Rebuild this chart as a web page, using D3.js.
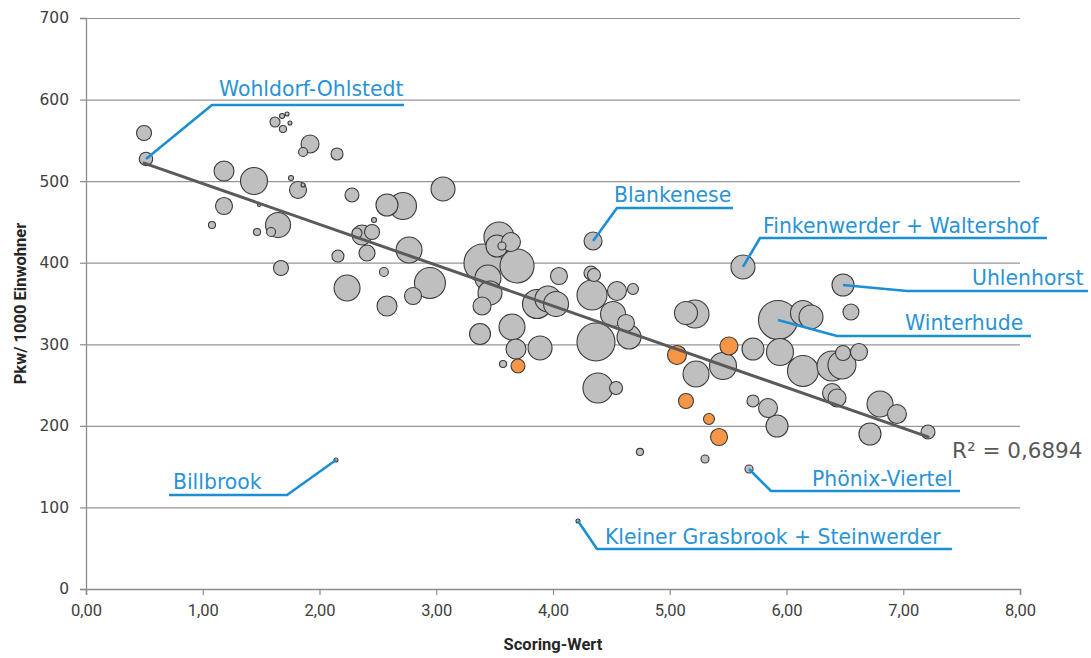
<!DOCTYPE html>
<html lang="de">
<head>
<meta charset="utf-8">
<title>Pkw-Dichte und Scoring-Wert der Hamburger Stadtteile</title>
<script src="https://cdn.jsdelivr.net/npm/d3@7/dist/d3.min.js"></script>
<style>
  html, body { margin: 0; padding: 0; background: #ffffff; }
  svg { display: block; }
</style>
</head>
<body>
<svg id="chart" width="1091" height="658"></svg>
<script>
// Scoring-Wert je Stadtteil (x)
const scoring = [
  0.497, 0.514, 1.619, 1.679, 1.722, 1.747, 1.687, 1.919, 1.859, 2.150,
  1.182, 1.439, 1.756, 1.816, 1.859, 1.182, 1.482, 2.278, 2.578, 2.715,
  3.058, 1.079, 1.465, 1.645, 1.585, 2.467, 2.450, 2.321, 2.364, 2.407,
  2.158, 2.767, 2.946, 2.236, 1.670, 2.552, 2.801, 2.578, 3.537, 3.520,
  3.563, 3.640, 3.400, 3.692, 3.443, 3.460, 3.392, 3.375, 3.649, 3.683,
  3.889, 3.572, 4.051, 3.863, 3.957, 4.026, 4.343, 4.325, 4.351, 4.334,
  4.548, 4.685, 4.514, 4.625, 4.651, 4.368, 4.385, 4.540, 5.627, 6.484,
  6.552, 5.139, 5.216, 5.225, 5.456, 5.713, 4.745, 5.302, 5.679, 5.713,
  5.842, 5.919, 5.927, 6.141, 6.210, 5.944, 6.141, 6.390, 6.475, 6.484,
  6.621, 6.390, 6.433, 6.801, 6.946, 6.715, 7.212, 4.214, 2.141,
  3.700, 5.062, 5.507, 5.139, 5.336, 5.422
];

// Pkw je 1000 Einwohner (y)
const pkw = [
  559.0, 527.2, 572.5, 579.9, 582.3, 571.3, 563.9, 545.5, 535.7, 533.3,
  512.4, 500.2, 503.9, 489.2, 495.3, 469.5, 470.8, 483.0, 470.8, 469.5,
  490.4, 446.2, 437.7, 446.2, 437.7, 452.4, 437.7, 436.4, 434.0, 411.9,
  408.2, 415.6, 375.1, 369.0, 393.5, 388.6, 359.2, 346.9, 431.5, 420.5,
  420.5, 425.4, 399.7, 396.0, 381.3, 362.9, 346.9, 312.6, 321.2, 294.2,
  295.5, 275.8, 383.7, 349.4, 355.5, 349.4, 426.6, 387.4, 384.9, 360.4,
  365.3, 367.8, 337.1, 326.1, 308.9, 302.8, 246.4, 246.4, 394.8, 372.7,
  339.6, 338.4, 337.1, 263.6, 273.4, 294.2, 168.0, 159.4, 147.1, 230.5,
  221.9, 199.8, 329.8, 338.4, 333.5, 290.5, 267.3, 273.4, 274.6, 289.3,
  290.5, 240.3, 234.2, 226.8, 214.5, 190.0, 192.5, 83.4, 158.1,
  273.4, 286.9, 297.9, 230.5, 208.4, 186.3
];

// Einwohner in Tausend (Blasengröße)
const einwohner = [
  9.0, 7.2, 4.0, 1.0, 0.64, 0.64, 2.0, 13.0, 3.2, 5.8,
  16.0, 29.2, 1.0, 11.6, 0.64, 11.6, 0.36, 7.8, 19.4, 29.2,
  23.0, 2.0, 2.0, 25.0, 3.2, 1.0, 9.0, 4.0, 16.0, 10.2,
  5.8, 27.0, 38.4, 27.0, 9.0, 3.2, 11.6, 16.0, 36.0, 19.4,
  2.6, 14.4, 57.8, 46.2, 27.0, 23.0, 13.0, 17.6, 27.0, 16.0,
  23.0, 2.0, 11.6, 33.6, 27.0, 25.0, 13.0, 7.8, 6.8, 36.0,
  14.4, 4.8, 25.0, 11.6, 23.0, 57.8, 36.0, 6.8, 23.0, 19.4,
  10.2, 21.2, 31.4, 27.0, 29.2, 19.4, 2.0, 2.6, 2.6, 5.8,
  14.4, 19.4, 60.8, 25.0, 23.0, 29.2, 38.4, 36.0, 31.4, 9.0,
  11.6, 14.4, 13.0, 27.0, 14.4, 19.4, 7.8, 0.64, 0.64,
  7.8, 14.4, 13.0, 9.0, 4.8, 11.6
];

// Gruppe je Stadtteil: "a" = übrige Stadtteile, "b" = hervorgehobene Stadtteile
const gruppe = [
  "a","a","a","a","a","a","a","a","a","a",
  "a","a","a","a","a","a","a","a","a","a",
  "a","a","a","a","a","a","a","a","a","a",
  "a","a","a","a","a","a","a","a","a","a",
  "a","a","a","a","a","a","a","a","a","a",
  "a","a","a","a","a","a","a","a","a","a",
  "a","a","a","a","a","a","a","a","a","a",
  "a","a","a","a","a","a","a","a","a","a",
  "a","a","a","a","a","a","a","a","a","a",
  "a","a","a","a","a","a","a","a","a",
  "b","b","b","b","b","b"
];

// Benannte Stadtteile und ihr Index in den Reihen oben
const stadtteilNamen = [
  "Wohldorf-Ohlstedt", "Blankenese", "Finkenwerder + Waltershof", "Uhlenhorst",
  "Winterhude", "Phönix-Viertel", "Kleiner Grasbrook + Steinwerder", "Billbrook"
];
const stadtteilIndex = [1, 56, 68, 69, 82, 78, 97, 98];

// Lineare Trendlinie und Bestimmtheitsmaß
const trendAchsenabschnitt = 547;
const trendSteigung = -50.0;
const bestimmtheitsmass = 0.6894;

// Achsenbeschriftungen
const xTicks = [0, 1, 2, 3, 4, 5, 6, 7, 8];
const xTickLabels = ["0,00", "1,00", "2,00", "3,00", "4,00", "5,00", "6,00", "7,00", "8,00"];
const yTicks = [0, 100, 200, 300, 400, 500, 600, 700];
const xTitel = "Scoring-Wert";
const yTitel = "Pkw/ 1000 Einwohner";

// ---- Layout ----
const plot = { left: 86, right: 1020, top: 18, bottom: 589 };

// Beschriftungslage je benanntem Stadtteil (in Datenkoordinaten):
// Knickpunkt der Führungslinie, Ende der Unterstreichung, Textanfang
const labelLayout = [
  { knick: [1.079, 593.4], ende: [2.724, 593.4], text: [1.139, 604.4] },
  { knick: [4.548, 467.1], ende: [5.542, 467.1], text: [4.522, 474.4] },
  { knick: [5.773, 430.3], ende: [8.231, 430.3], text: [5.799, 436.4] },
  { knick: [7.032, 365.3], ende: [8.582, 365.3], text: [7.589, 372.7] },
  { knick: [6.433, 310.2], ende: [8.094, 310.2], text: [7.015, 317.5] },
  { knick: [5.867, 120.1], ende: [7.486, 120.1], text: [6.218, 126.3] },
  { knick: [4.377, 49.0],  ende: [7.417, 49.0],  text: [4.445, 55.2] },
  { knick: [1.722, 115.2], ende: [0.711, 115.2], text: [0.745, 122.6] }
];

const farben = { a: "#bfbfbf", b: "#f79646" };

const svg = d3.select("#chart");

const x = d3.scaleLinear().domain([0, 8]).range([plot.left, plot.right]);
const y = d3.scaleLinear().domain([0, 700]).range([plot.bottom, plot.top]);
const r = d3.scaleSqrt().domain([0, 100]).range([0, 25]);

// Horizontale Gitterlinien
const grid = svg.append("g")
  .attr("transform", `translate(${plot.left},0)`)
  .call(d3.axisLeft(y).tickValues(yTicks.filter(v => v > 0))
    .tickSize(-(plot.right - plot.left)).tickFormat(""));
grid.select(".domain").remove();
grid.selectAll(".tick line").attr("stroke", "#969696").attr("stroke-width", 1.2);

// y-Achse
const yAxis = svg.append("g")
  .attr("transform", `translate(${plot.left},0)`)
  .call(d3.axisLeft(y).tickValues(yTicks).tickSize(6).tickPadding(11)
    .tickFormat(d3.format("d")));
yAxis.select(".domain").attr("stroke", "#8c8c8c").attr("stroke-width", 1.3);
yAxis.selectAll(".tick line").attr("stroke", "#8c8c8c").attr("stroke-width", 1.2);
yAxis.selectAll(".tick text")
  .attr("fill", "#404040")
  .style("font-family", "'DejaVu Sans', Verdana, sans-serif")
  .style("font-size", "15.5px");

// x-Achse
const xAxis = svg.append("g")
  .attr("transform", `translate(0,${plot.bottom})`)
  .call(d3.axisBottom(x).tickValues(xTicks).tickSize(6).tickPadding(9)
    .tickFormat((d, i) => xTickLabels[i]));
xAxis.select(".domain").attr("stroke", "#8c8c8c").attr("stroke-width", 1.5);
xAxis.selectAll(".tick line").attr("stroke", "#8c8c8c").attr("stroke-width", 1.2);
xAxis.selectAll(".tick text")
  .attr("fill", "#404040")
  .style("font-family", "Roboto, 'Liberation Sans', sans-serif")
  .style("font-size", "16.5px");

// Achsentitel
svg.append("text")
  .attr("x", (plot.left + plot.right) / 2)
  .attr("y", 650)
  .attr("text-anchor", "middle")
  .attr("fill", "#262626")
  .style("font-family", "Roboto, 'Liberation Sans', sans-serif")
  .style("font-weight", "bold")
  .style("font-size", "16.5px")
  .text(xTitel);

svg.append("text")
  .attr("transform", `translate(26,${(plot.top + plot.bottom) / 2}) rotate(-90)`)
  .attr("text-anchor", "middle")
  .attr("fill", "#262626")
  .style("font-family", "Roboto, 'Liberation Sans', sans-serif")
  .style("font-weight", "bold")
  .style("font-size", "16.5px")
  .text(yTitel);

// Blasen: größere zuerst, damit kleine obenauf liegen
const punkte = scoring.map((s, i) => ({ s, p: pkw[i], e: einwohner[i], g: gruppe[i] }))
  .sort((a, b) => b.e - a.e);

svg.append("g")
  .selectAll("circle")
  .data(punkte)
  .join("circle")
  .attr("cx", d => x(d.s))
  .attr("cy", d => y(d.p))
  .attr("r", d => Math.max(1.6, r(d.e)))
  .attr("fill", d => farben[d.g])
  .attr("stroke", "#3a3a3a")
  .attr("stroke-width", 1.1);

// Trendlinie über den Bereich der Daten
const xMin = d3.min(scoring), xMax = d3.max(scoring);
svg.append("line")
  .attr("x1", x(xMin)).attr("y1", y(trendAchsenabschnitt + trendSteigung * xMin))
  .attr("x2", x(xMax)).attr("y2", y(trendAchsenabschnitt + trendSteigung * xMax))
  .attr("stroke", "#5a5a5a")
  .attr("stroke-width", 3)
  .attr("stroke-linecap", "round");

svg.append("text")
  .attr("x", 952).attr("y", 458)
  .attr("fill", "#595959")
  .style("font-family", "'DejaVu Sans', Verdana, sans-serif")
  .style("font-size", "21.5px")
  .text("R² = " + d3.format(".4f")(bestimmtheitsmass).replace(".", ","));

// Beschriftungen mit Führungslinien
const labels = svg.append("g");
stadtteilNamen.forEach((name, k) => {
  const i = stadtteilIndex[k];
  const L = labelLayout[k];
  const pts = [[scoring[i], pkw[i]], L.knick, L.ende].map(([a, b]) => [x(a), y(b)]);
  labels.append("path")
    .attr("d", d3.line()(pts))
    .attr("fill", "none")
    .attr("stroke", "#1c8fd4")
    .attr("stroke-width", 2.6)
    .attr("stroke-linejoin", "round");
  labels.append("text")
    .attr("x", x(L.text[0]))
    .attr("y", y(L.text[1]))
    .attr("fill", "#2a93d4")
    .style("font-family", "'DejaVu Sans', Verdana, sans-serif")
    .style("font-size", "20.4px")
    .text(name);
});
</script>
</body>
</html>
